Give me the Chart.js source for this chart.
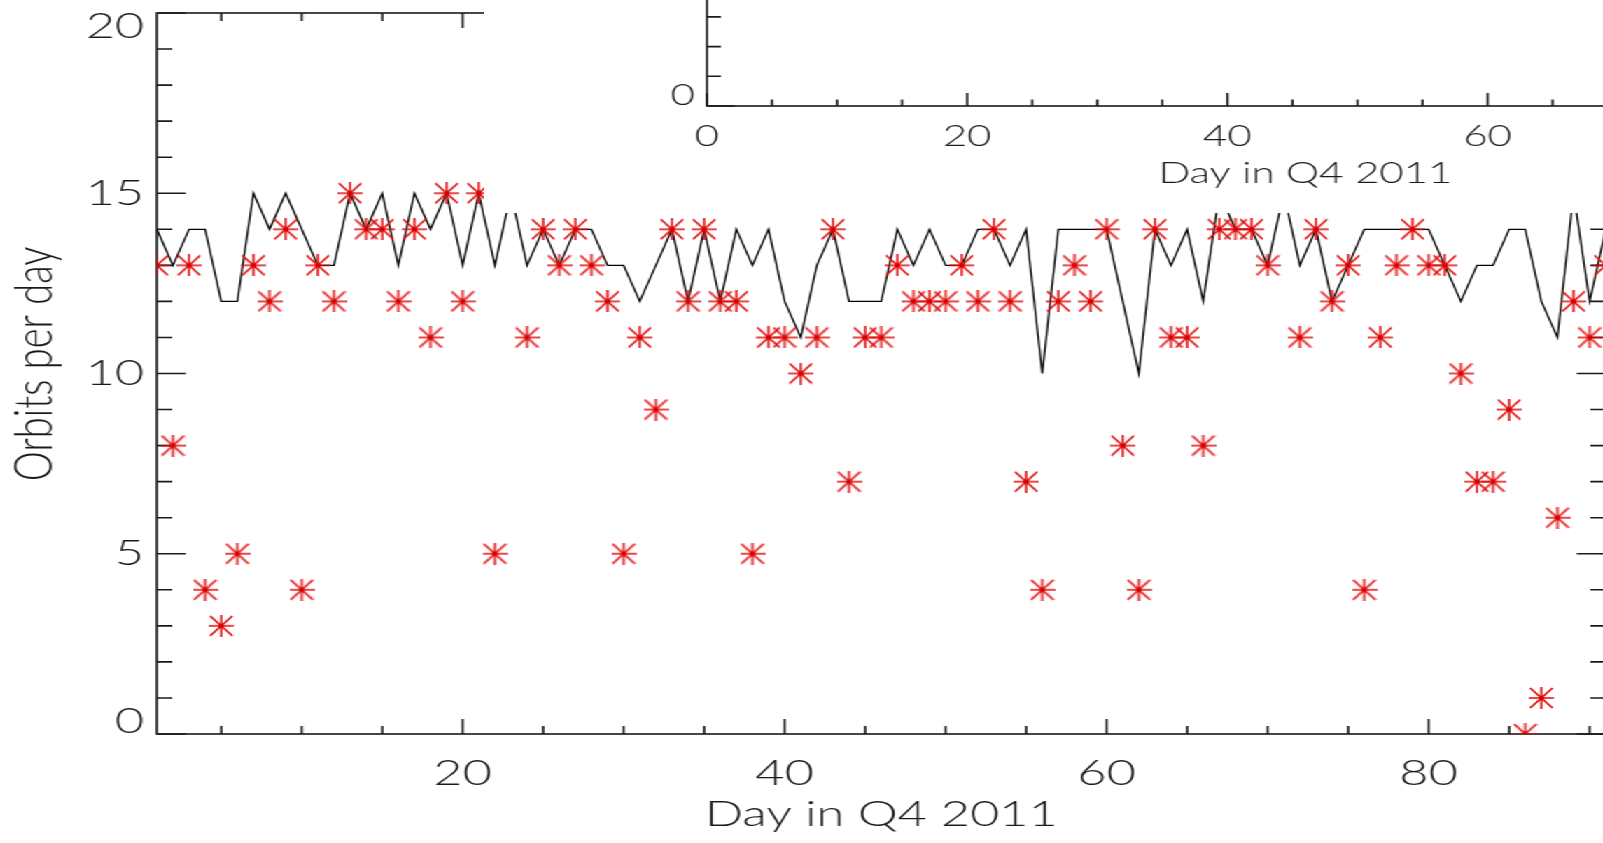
<!DOCTYPE html>
<html>
<head>
<meta charset="utf-8">
<title>Orbits per day - Q4 2011</title>
<script src="https://cdn.jsdelivr.net/npm/chart.js@4.4.1/dist/chart.umd.min.js"></script>
<style>
  html, body { margin: 0; padding: 0; background: #fff; overflow: hidden; }
  /* the original plot is stretched sideways, so the whole stage is too */
  #stage { position: relative; width: 1160px; height: 843px; transform: scaleX(1.4); transform-origin: 0 0; }
  #main { position: absolute; left: 0; top: 0; }
  #inset { position: absolute; left: 346px; top: -200px; background: #fff; }
</style>
</head>
<body>
<div id="stage">
  <canvas id="main" width="1160" height="843"></canvas>
  <canvas id="inset" width="1030" height="413"></canvas>
</div>
<script>
// days of Q4 2011 shown on the main plot
const days = [1, 2, 3, 4, 5, 6, 7, 8, 9, 10, 11, 12, 13, 14, 15, 16, 17, 18, 19, 20,
  21, 22, 23, 24, 25, 26, 27, 28, 29, 30, 31, 32, 33, 34, 35, 36, 37, 38, 39, 40,
  41, 42, 43, 44, 45, 46, 47, 48, 49, 50, 51, 52, 53, 54, 55, 56, 57, 58, 59, 60,
  61, 62, 63, 64, 65, 66, 67, 68, 69, 70, 71, 72, 73, 74, 75, 76, 77, 78, 79, 80,
  81, 82, 83, 84, 85, 86, 87, 88, 89, 90, 91];

// black line
const orbitsExpected = [14, 13, 14, 14, 12, 12, 15, 14, 15, 14, 13, 13, 15, 14, 15, 13, 15, 14, 15, 13,
  15, 13, 15, 13, 14, 13, 14, 14, 13, 13, 12, 13, 14, 12, 14, 12, 14, 13, 14, 12,
  11, 13, 14, 12, 12, 12, 14, 13, 14, 13, 13, 14, 14, 13, 14, 10, 14, 14, 14, 14,
  12, 10, 14, 13, 14, 12, 15, 14, 14, 13, 15, 13, 14, 12, 13, 14, 14, 14, 14, 14,
  13, 12, 13, 13, 14, 14, 12, 11, 15, 12, 14];

// red asterisks
const orbitsObserved = [13, 8, 13, 4, 3, 5, 13, 12, 14, 4, 13, 12, 15, 14, 14, 12, 14, 11, 15, 12,
  15, 5, 15, 11, 14, 13, 14, 13, 12, 5, 11, 9, 14, 12, 14, 12, 12, 5, 11, 11,
  10, 11, 14, 7, 11, 11, 13, 12, 12, 12, 13, 12, 14, 12, 7, 4, 12, 13, 12, 14,
  8, 4, 14, 11, 11, 8, 14, 14, 14, 13, 15, 11, 14, 12, 13, 4, 11, 13, 14, 13,
  13, 10, 7, 7, 9, 0, 1, 6, 12, 11, 13];

const xTickValues = [20, 40, 60, 80];
const yTickValues = [0, 5, 10, 15, 20];
const insetXTickValues = [0, 20, 40, 60, 80];
const insetYTickValues = [0, 200, 400];

const ink = '#1a1a1a';
const fontFamily = "Lato, 'Liberation Sans', sans-serif";

// IDL style asterisk marker
function asterisk(w, h, color) {
  const c = document.createElement('canvas');
  c.width = w;
  c.height = h;
  const g = c.getContext('2d');
  g.strokeStyle = color;
  g.lineWidth = 1.5;
  g.beginPath();
  g.moveTo(0, h / 2); g.lineTo(w, h / 2);
  g.moveTo(w / 2, 0); g.lineTo(w / 2, h);
  g.moveTo(1, 1); g.lineTo(w - 1, h - 1);
  g.moveTo(w - 1, 1); g.lineTo(1, h - 1);
  g.stroke();
  g.fillStyle = '#d00000';
  g.beginPath();
  g.arc(w / 2, h / 2, 1.8, 0, Math.PI * 2);
  g.fill();
  return c;
}
const star = asterisk(18, 22, '#e60a0a');

// box round the plot with inward ticks on all four sides
const frameTicks = {
  id: 'frameTicks',
  beforeDatasetsDraw(chart, args, o) {
    const {ctx, chartArea: a, scales: {x, y}} = chart;
    ctx.save();
    ctx.strokeStyle = ink;
    ctx.lineWidth = 1.6;
    ctx.strokeRect(a.left, a.top, a.right - a.left, a.bottom - a.top);
    ctx.beginPath();
    for (let v = Math.ceil(x.min / o.xMinor) * o.xMinor; v <= x.max; v += o.xMinor) {
      const px = x.getPixelForValue(v);
      const len = v % o.xMajor === 0 ? o.xMajorLen : o.xMinorLen;
      ctx.moveTo(px, a.bottom); ctx.lineTo(px, a.bottom - len);
      ctx.moveTo(px, a.top); ctx.lineTo(px, a.top + len);
    }
    for (let v = Math.ceil(y.min / o.yMinor) * o.yMinor; v <= y.max; v += o.yMinor) {
      const py = y.getPixelForValue(v);
      const len = v % o.yMajor === 0 ? o.yMajorLen : o.yMinorLen;
      ctx.moveTo(a.left, py); ctx.lineTo(a.left + len, py);
      ctx.moveTo(a.right, py); ctx.lineTo(a.right - len, py);
    }
    ctx.stroke();
    ctx.restore();
  }
};

// end labels sit inside the axis, like IDL does it
const endLabel = (v, i, t) => {
  if (i === 0) return [String(v), ''];
  if (i === t.length - 1) return ['', String(v)];
  return String(v);
};

const tickFont = {family: fontFamily, size: 36, weight: '300'};
const titleFont = {family: fontFamily, size: 36, weight: '300'};
const insetFont = {family: fontFamily, size: 30, weight: '300'};

new Chart(document.getElementById('main'), {
  type: 'scatter',
  data: {
    datasets: [
      {
        label: 'Observed',
        data: days.map((d, i) => ({x: d, y: orbitsObserved[i]})),
        pointStyle: star,
        pointRadius: 9,
        showLine: false,
        clip: 0
      },
      {
        label: 'Expected',
        data: days.map((d, i) => ({x: d, y: orbitsExpected[i]})),
        showLine: true,
        borderColor: '#000',
        borderWidth: 1.3,
        pointRadius: 0,
        tension: 0,
        clip: 0
      }
    ]
  },
  options: {
    responsive: false,
    animation: false,
    devicePixelRatio: 1,
    layout: {padding: {top: 13, right: 13, bottom: 0, left: 0}},
    plugins: {
      legend: {display: false},
      tooltip: {enabled: false},
      frameTicks: {xMinor: 5, xMajor: 20, xMajorLen: 15, xMinorLen: 8,
                   yMinor: 1, yMajor: 5, yMajorLen: 20.7, yMinorLen: 11}
    },
    scales: {
      x: {
        type: 'linear',
        min: 1,
        max: 91,
        grid: {display: false, drawTicks: false},
        border: {display: false},
        afterBuildTicks: s => { s.ticks = xTickValues.map(v => ({value: v})); },
        ticks: {padding: 18, color: ink, font: tickFont, maxRotation: 0, callback: v => String(v)},
        title: {display: true, text: 'Day in Q4 2011', color: ink, font: titleFont, padding: {top: 7, bottom: 7}},
        afterFit: s => { s.height = 109; s.paddingLeft = 0; s.paddingRight = 0; }
      },
      y: {
        min: 0,
        max: 20,
        grid: {display: false, drawTicks: false},
        border: {display: false},
        afterBuildTicks: s => { s.ticks = yTickValues.map(v => ({value: v})); },
        ticks: {padding: 9, color: ink, font: {...tickFont, lineHeight: 0.72}, callback: endLabel},
        title: {display: true, text: '\u2002Orbits per day', color: ink, font: {...titleFont, size: 38}, padding: {top: 2.2, bottom: 2.2}},
        afterFit: s => { s.width = 112; s.paddingTop = 0; s.paddingBottom = 0; }
      }
    }
  },
  plugins: [frameTicks]
});

// the inset plot laid over the top right corner
new Chart(document.getElementById('inset'), {
  type: 'scatter',
  data: {datasets: []},
  options: {
    responsive: false,
    animation: false,
    devicePixelRatio: 1,
    layout: {padding: {top: 9, right: 16, bottom: 0, left: 0}},
    plugins: {
      legend: {display: false},
      tooltip: {enabled: false},
      frameTicks: {xMinor: 5, xMajor: 20, xMajorLen: 13, xMinorLen: 6.5,
                   yMinor: 50, yMajor: 200, yMajorLen: 20, yMinorLen: 10}
    },
    scales: {
      x: {
        type: 'linear',
        min: 0,
        max: 92,
        grid: {display: false, drawTicks: false},
        border: {display: false},
        afterBuildTicks: s => { s.ticks = insetXTickValues.map(v => ({value: v})); },
        ticks: {padding: 12, color: ink, font: insetFont, maxRotation: 0, callback: v => String(v)},
        title: {display: true, text: 'Day in Q4 2011', color: ink, font: insetFont, padding: {top: 22, bottom: 22}},
        afterFit: s => { s.height = 107; s.paddingLeft = 0; s.paddingRight = 0; }
      },
      y: {
        min: 0,
        max: 500,
        grid: {display: false, drawTicks: false},
        border: {display: false},
        afterBuildTicks: s => { s.ticks = insetYTickValues.map(v => ({value: v})); },
        ticks: {padding: 8.6, color: ink, font: {...insetFont, lineHeight: 0.7}, callback: endLabel},
        afterFit: s => { s.width = 159; s.paddingTop = 0; s.paddingBottom = 0; }
      }
    }
  },
  plugins: [frameTicks]
});
</script>
</body>
</html>
